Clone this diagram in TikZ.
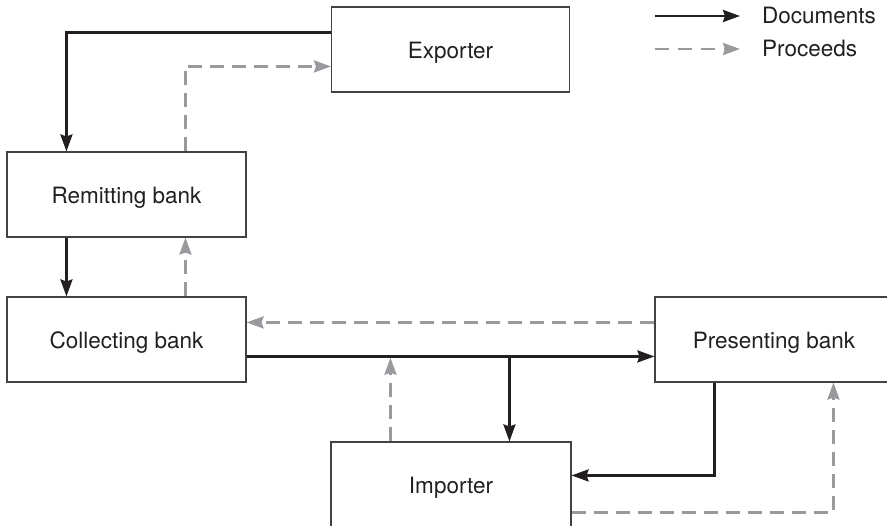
\documentclass[tikz,border=0pt]{standalone}
\usepackage{fontspec}
\setmainfont{TeX Gyre Heros}
\usetikzlibrary{arrows.meta,calc}
\definecolor{ink}{HTML}{231F20}
\definecolor{prgray}{HTML}{9A9A9E}
\begin{document}
\begin{tikzpicture}[x=1pt,y=-1pt,
  box/.style={draw=ink!85, line width=1.1pt, minimum width=239pt, minimum height=85pt,
    inner sep=0pt, text=ink, text height=19pt, text depth=0pt,
    font=\fontsize{22.5}{26}\selectfont},
  doc/.style={draw=ink, line width=2.6pt, -{Stealth[length=17pt,width=12pt,inset=2pt]}},
  pro/.style={draw=prgray, line width=2.6pt, dash pattern=on 14pt off 8pt,
    -{Stealth[length=17pt,width=12pt,inset=2pt]}},
  lbl/.style={anchor=base west, inner sep=0pt, text=ink, font=\fontsize{22.5}{26}\selectfont}]
\useasboundingbox (0,0) rectangle (887,526);
\clip (0,0) rectangle (887,526);
% boxes
\node[box, minimum width=238pt] (exp) at (450.5,49.5) {Exporter};
\node[box] (rem) at (126.5,194.5) {Remitting bank};
\node[box] (col) at (126.5,339.5) {Collecting bank};
\node[box, minimum width=238pt] (pre) at (774,339.5) {Presenting bank};
\node[box, minimum width=240pt] (imp) at (451,484.5) {Importer};
% helper coordinates
\coordinate (d3s) at ($(col.north east)+(0,60)$);
\coordinate (brb) at ($(imp.north west)+(179,0)$);
\coordinate (ipx) at ($(imp.north west)+(60,0)$);
% documents
\draw[doc] ($(exp.north west)+(0,26)$) -| ($(rem.north west)+(60,0)$);
\draw[doc] ($(rem.south west)+(60,0)$) -- ($(col.north west)+(60,0)$);
\draw[doc] (d3s) -- ($(pre.north west)+(0,60)$);
\draw[doc] (brb |- d3s) -- (brb);
\draw[doc] ($(pre.south west)+(60,0)$) |- ($(imp.north east)+(0,34)$);
% proceeds
\draw[pro] ($(rem.north west)+(179,0)$) |- ($(exp.north west)+(0,60)$);
\draw[pro] ($(col.north west)+(179,0)$) -- ($(rem.south west)+(179,0)$);
\draw[pro] ($(pre.north west)+(0,26)$) -- ($(col.north east)+(0,26)$);
\draw[pro] (ipx) -- ($(ipx |- d3s)+(0,1.3)$);
\draw[pro] ($(imp.north east)+(0,71)$) -| ($(pre.south west)+(179,0)$);
% legend
\coordinate (la1) at (655,16);
\coordinate (lb1) at (740,16);
\coordinate (la2) at (655,49);
\coordinate (lb2) at (740,49);
\draw[doc] (la1) -- (lb1);
\draw[pro, dash pattern=on 14pt off 9pt] (la2) -- (lb2);
\node[lbl] (ldoc) at (762,24) {Documents};
\node[lbl] (lpro) at (762,57) {Proceeds};
\end{tikzpicture}
\end{document}
